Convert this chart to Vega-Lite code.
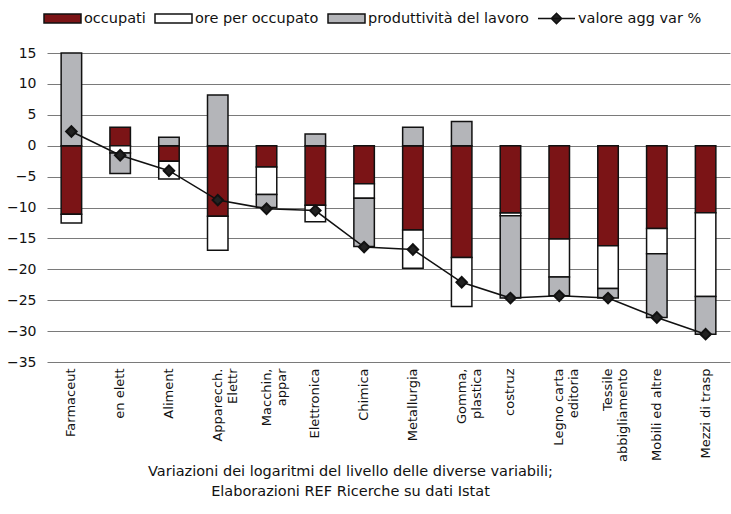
{
  "$schema": "https://vega.github.io/schema/vega-lite/v6.json",
  "width": 683,
  "height": 309,
  "autosize": "none",
  "padding": {"left": 47, "top": 53, "right": 1, "bottom": 152},
  "background": "white",
  "config": {"view": {"stroke": null}},
  "datasets": {
    "bars": [
      {"cat": "Farmaceut", "series": "occupati", "o": 1, "value": -11.1},
      {"cat": "Farmaceut", "series": "ore per occupato", "o": 2, "value": -1.4},
      {"cat": "Farmaceut", "series": "produttività del lavoro", "o": 3, "value": 15.0},
      {"cat": "en elett", "series": "occupati", "o": 1, "value": 3.0},
      {"cat": "en elett", "series": "ore per occupato", "o": 2, "value": -1.2},
      {"cat": "en elett", "series": "produttività del lavoro", "o": 3, "value": -3.3},
      {"cat": "Aliment", "series": "occupati", "o": 1, "value": -2.5},
      {"cat": "Aliment", "series": "ore per occupato", "o": 2, "value": -2.9},
      {"cat": "Aliment", "series": "produttività del lavoro", "o": 3, "value": 1.35},
      {"cat": "Apparecch.|Elettr", "series": "occupati", "o": 1, "value": -11.4},
      {"cat": "Apparecch.|Elettr", "series": "ore per occupato", "o": 2, "value": -5.5},
      {"cat": "Apparecch.|Elettr", "series": "produttività del lavoro", "o": 3, "value": 8.2},
      {"cat": "Macchin,|appar", "series": "occupati", "o": 1, "value": -3.45},
      {"cat": "Macchin,|appar", "series": "ore per occupato", "o": 2, "value": -4.45},
      {"cat": "Macchin,|appar", "series": "produttività del lavoro", "o": 3, "value": -2.1},
      {"cat": "Elettronica", "series": "occupati", "o": 1, "value": -9.65},
      {"cat": "Elettronica", "series": "ore per occupato", "o": 2, "value": -2.65},
      {"cat": "Elettronica", "series": "produttività del lavoro", "o": 3, "value": 1.9},
      {"cat": "Chimica", "series": "occupati", "o": 1, "value": -6.15},
      {"cat": "Chimica", "series": "ore per occupato", "o": 2, "value": -2.35},
      {"cat": "Chimica", "series": "produttività del lavoro", "o": 3, "value": -7.8},
      {"cat": "Metallurgia", "series": "occupati", "o": 1, "value": -13.65},
      {"cat": "Metallurgia", "series": "ore per occupato", "o": 2, "value": -6.2},
      {"cat": "Metallurgia", "series": "produttività del lavoro", "o": 3, "value": 3.0},
      {"cat": "Gomma,|plastica", "series": "occupati", "o": 1, "value": -18.1},
      {"cat": "Gomma,|plastica", "series": "ore per occupato", "o": 2, "value": -7.9},
      {"cat": "Gomma,|plastica", "series": "produttività del lavoro", "o": 3, "value": 3.9},
      {"cat": "costruz", "series": "occupati", "o": 1, "value": -10.9},
      {"cat": "costruz", "series": "ore per occupato", "o": 2, "value": -0.45},
      {"cat": "costruz", "series": "produttività del lavoro", "o": 3, "value": -13.3},
      {"cat": "Legno carta|editoria", "series": "occupati", "o": 1, "value": -15.1},
      {"cat": "Legno carta|editoria", "series": "ore per occupato", "o": 2, "value": -6.15},
      {"cat": "Legno carta|editoria", "series": "produttività del lavoro", "o": 3, "value": -3.05},
      {"cat": "Tessile|abbigliamento", "series": "occupati", "o": 1, "value": -16.2},
      {"cat": "Tessile|abbigliamento", "series": "ore per occupato", "o": 2, "value": -6.9},
      {"cat": "Tessile|abbigliamento", "series": "produttività del lavoro", "o": 3, "value": -1.55},
      {"cat": "Mobili ed altre", "series": "occupati", "o": 1, "value": -13.4},
      {"cat": "Mobili ed altre", "series": "ore per occupato", "o": 2, "value": -4.1},
      {"cat": "Mobili ed altre", "series": "produttività del lavoro", "o": 3, "value": -10.3},
      {"cat": "Mezzi di trasp", "series": "occupati", "o": 1, "value": -10.85},
      {"cat": "Mezzi di trasp", "series": "ore per occupato", "o": 2, "value": -13.55},
      {"cat": "Mezzi di trasp", "series": "produttività del lavoro", "o": 3, "value": -6.1}
    ],
    "line": [
      {"cat": "Farmaceut", "val": 2.3},
      {"cat": "en elett", "val": -1.55},
      {"cat": "Aliment", "val": -4.05},
      {"cat": "Apparecch.|Elettr", "val": -8.8},
      {"cat": "Macchin,|appar", "val": -10.2},
      {"cat": "Elettronica", "val": -10.5},
      {"cat": "Chimica", "val": -16.4},
      {"cat": "Metallurgia", "val": -16.8},
      {"cat": "Gomma,|plastica", "val": -22.1},
      {"cat": "costruz", "val": -24.65},
      {"cat": "Legno carta|editoria", "val": -24.3},
      {"cat": "Tessile|abbigliamento", "val": -24.65},
      {"cat": "Mobili ed altre", "val": -27.8},
      {"cat": "Mezzi di trasp", "val": -30.5}
    ]
  },
  "encoding": {
    "x": {
      "field": "cat",
      "type": "nominal",
      "sort": null,
      "scale": {"paddingInner": 0.58, "paddingOuter": 0.29},
      "axis": {
        "labelAngle": -90,
        "labelAlign": "right",
        "labelBaseline": "middle",
        "labelExpr": "split(datum.label, '|')",
        "labelFont": "DejaVu Sans",
        "labelFontSize": 13,
        "labelColor": "#111",
        "labelLineHeight": 15,
        "labelPadding": 6,
        "ticks": false,
        "domain": false,
        "title": ["Variazioni dei logaritmi del livello delle diverse variabili;", "Elaborazioni REF Ricerche su dati Istat"],
        "titleFont": "DejaVu Sans",
        "titleFontSize": 14.5,
        "titleFontWeight": "normal",
        "titleColor": "#111",
        "titleLineHeight": 20,
        "titleX": 303,
        "titleY": 102,
        "titleBaseline": "top",
        "titleAlign": "center"
      }
    }
  },
  "layer": [
    {
      "data": {"name": "bars"},
      "mark": {"type": "bar", "stroke": "#111", "strokeWidth": 1.5},
      "encoding": {
        "y": {
          "field": "value",
          "type": "quantitative",
          "stack": "zero",
          "scale": {"domain": [-35, 15], "nice": false},
          "axis": {
            "values": [-35, -30, -25, -20, -15, -10, -5, 0, 5, 10, 15],
            "tickCount": 12,
            "labelOverlap": false,
            "labelFlush": false,
            "grid": true,
            "gridColor": "#7a7a7a",
            "gridWidth": 1,
            "domain": false,
            "ticks": false,
            "labelFont": "DejaVu Sans",
            "labelFontSize": 14,
            "labelColor": "#111",
            "labelPadding": 11,
            "title": null
          }
        },
        "fill": {
          "field": "series",
          "type": "nominal",
          "scale": {
            "domain": ["occupati", "ore per occupato", "produttività del lavoro"],
            "range": ["#7B1416", "#FFFFFF", "#B4B5B9"]
          },
          "legend": {
            "orient": "none",
            "legendX": -4,
            "legendY": -54,
            "direction": "horizontal",
            "title": null,
            "symbolType": "M-1,-0.24H1V0.24H-1Z",
            "symbolSize": 1369,
            "symbolStrokeColor": "#111",
            "symbolStrokeWidth": 1.5,
            "labelFont": "DejaVu Sans",
            "labelFontSize": 14.5,
            "labelColor": "#111",
            "labelLimit": 400,
            "labelOffset": 2,
            "columnPadding": 6
          }
        },
        "order": {"field": "o", "type": "quantitative"}
      }
    },
    {
      "data": {"name": "line"},
      "mark": {
        "type": "line",
        "color": "#111",
        "strokeWidth": 1.5,
        "point": {"shape": "diamond", "filled": true, "size": 110, "color": "#222"}
      },
      "encoding": {
        "y": {"field": "val", "type": "quantitative"},
        "stroke": {
          "datum": "valore agg var %",
          "scale": {"range": ["#111"]},
          "legend": {
            "orient": "none",
            "legendX": 490,
            "legendY": -54,
            "title": null,
            "symbolType": "M-1,0H1M-0.28,0L0,-0.28L0.28,0L0,0.28Z",
            "symbolSize": 1369,
            "symbolFillColor": "#111",
            "symbolStrokeWidth": 1.5,
            "labelFont": "DejaVu Sans",
            "labelFontSize": 14.5,
            "labelColor": "#111",
            "labelLimit": 400,
            "labelOffset": 2
          }
        }
      }
    }
  ]
}
